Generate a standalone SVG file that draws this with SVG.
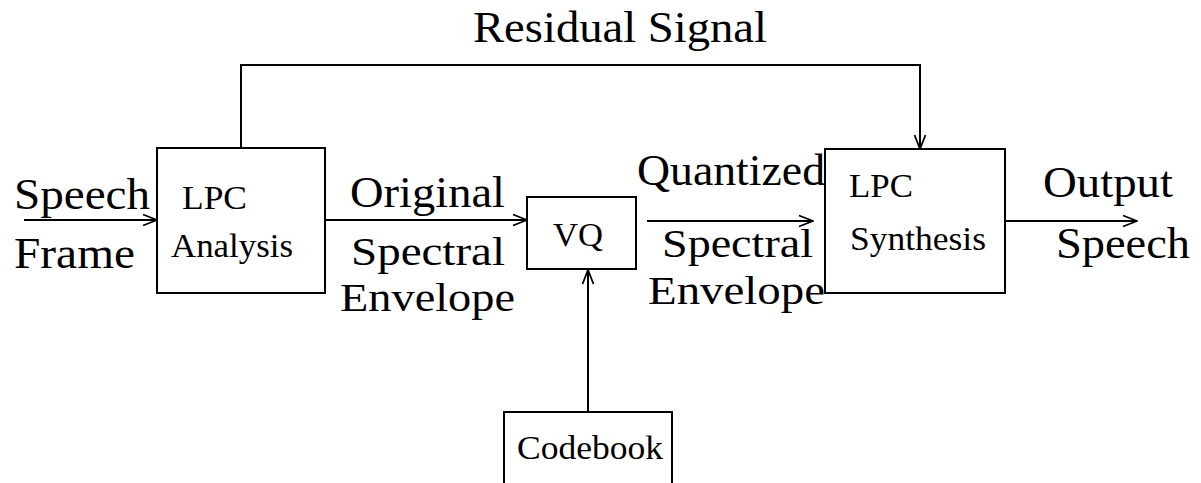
<svg xmlns="http://www.w3.org/2000/svg" width="1201" height="483" viewBox="0 0 1201 483">
<style>
.box{fill:none;stroke:#000;stroke-width:2}
.ln{fill:none;stroke:#000;stroke-width:2}
.big{font-family:"Liberation Serif","Times New Roman",serif;font-size:44px;fill:#000}
.mid{font-family:"Liberation Serif","Times New Roman",serif;font-size:41px;fill:#000}
.sm{font-family:"Liberation Serif","Times New Roman",serif;font-size:34px;fill:#000}
</style>
<defs>
<marker id="ah" markerUnits="userSpaceOnUse" markerWidth="16" markerHeight="14" viewBox="0 0 16 14" refX="15" refY="7" orient="auto">
<path d="M1,1.5 L15,7 L1,12.5" fill="none" stroke="#000" stroke-width="1.8"/>
</marker>
</defs>
<rect width="1201" height="483" fill="#fff"/>
<g id="connectors">
<line class="ln" x1="24" y1="220" x2="157" y2="220" marker-end="url(#ah)"/>
<line class="ln" x1="325" y1="220" x2="527" y2="220" marker-end="url(#ah)"/>
<line class="ln" x1="647" y1="221" x2="813" y2="221" marker-end="url(#ah)"/>
<line class="ln" x1="1005" y1="221" x2="1137" y2="221" marker-end="url(#ah)"/>
<line class="ln" x1="588" y1="412" x2="588" y2="270" marker-end="url(#ah)"/>
<polyline class="ln" points="241,148 241,65 920,65 920,149" marker-end="url(#ah)"/>
</g>
<g id="labels">
<text class="big" x="473" y="42" textLength="294" lengthAdjust="spacingAndGlyphs">Residual Signal</text>
<text class="big" x="14" y="209" textLength="136" lengthAdjust="spacingAndGlyphs">Speech</text>
<text class="big" x="14" y="268" textLength="121" lengthAdjust="spacingAndGlyphs">Frame</text>
<text class="big" x="350" y="207" textLength="155" lengthAdjust="spacingAndGlyphs">Original</text>
<text class="mid" x="351" y="265" textLength="154" lengthAdjust="spacingAndGlyphs">Spectral</text>
<text class="mid" x="340" y="311" textLength="175" lengthAdjust="spacingAndGlyphs">Envelope</text>
<text class="big" x="637" y="185" textLength="188" lengthAdjust="spacingAndGlyphs">Quantized</text>
<text class="mid" x="662" y="257" textLength="151" lengthAdjust="spacingAndGlyphs">Spectral</text>
<text class="mid" x="648" y="304" textLength="177" lengthAdjust="spacingAndGlyphs">Envelope</text>
<text class="big" x="1043" y="197" textLength="130" lengthAdjust="spacingAndGlyphs">Output</text>
<text class="big" x="1056" y="258" textLength="134" lengthAdjust="spacingAndGlyphs">Speech</text>
</g>
<g id="lpc-analysis">
<rect class="box" x="157" y="148" width="168" height="145"/>
<text class="sm" x="182" y="209" textLength="65" lengthAdjust="spacingAndGlyphs">LPC</text>
<text class="sm" x="171" y="257" textLength="122" lengthAdjust="spacingAndGlyphs">Analysis</text>
</g>
<g id="vq">
<rect class="box" x="527" y="197" width="109" height="72"/>
<text class="sm" x="553" y="246" textLength="50" lengthAdjust="spacingAndGlyphs">VQ</text>
</g>
<g id="lpc-synthesis">
<rect class="box" x="825" y="149" width="180" height="144"/>
<text class="sm" x="849" y="197" textLength="64" lengthAdjust="spacingAndGlyphs">LPC</text>
<text class="sm" x="850" y="250" textLength="136" lengthAdjust="spacingAndGlyphs">Synthesis</text>
</g>
<g id="codebook">
<rect class="box" x="504" y="412" width="168" height="80"/>
<text class="sm" x="517" y="459" textLength="146" lengthAdjust="spacingAndGlyphs">Codebook</text>
</g>
</svg>
